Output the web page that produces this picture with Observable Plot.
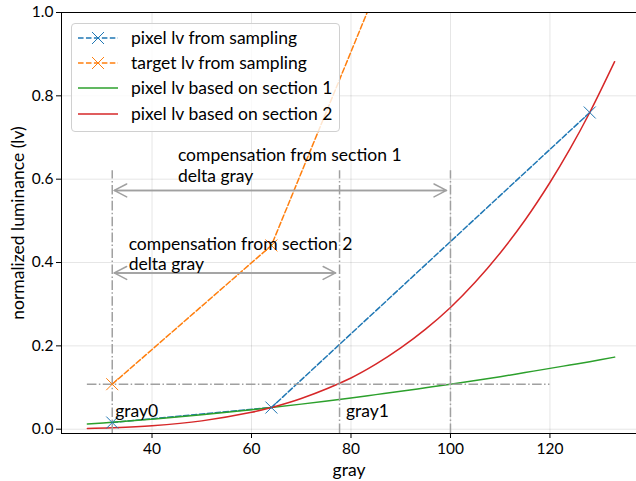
<!DOCTYPE html>
<html><head><meta charset="utf-8">
<script src="https://cdn.jsdelivr.net/npm/d3@7"></script>
<script src="https://cdn.jsdelivr.net/npm/@observablehq/plot@0.6"></script>
<style>
body{margin:0;background:#fff;}
#wrap{position:relative;width:636px;height:481px;font-family:Lato,sans-serif;}
#legend{position:absolute;left:71px;top:23px;width:267px;height:107px;border:1px solid #d0d0d0;border-radius:4px;background:rgba(255,255,255,0.8);font-size:17.5px;color:#000;}
#legend .row{position:absolute;left:0;height:20px;width:100%;}
#legend svg{position:absolute;left:5px;top:0;}
#legend span{position:absolute;left:59px;top:0;line-height:20px;white-space:nowrap;}
</style>
</head><body><div id="wrap"></div>
<script>
// sampled points
const sampleGray = [32, 64, 128];
const pixelLvSampled = [0.016, 0.052, 0.76];
const targetLvSampled = [0.108, 0.441, 2.30];
// fitted curves
const curveGray = [27, 32, 40, 50, 60, 64, 70, 80, 85, 90, 95, 100, 105, 110, 115, 120, 124, 128, 133];
const section1Lv = [0.0126, 0.0167, 0.0241, 0.0347, 0.0468, 0.052, 0.0602, 0.075, 0.083, 0.091, 0.0995, 0.108, 0.117, 0.126, 0.136, 0.146, 0.154, 0.162, 0.173];
const section2Lv = [0.0018, 0.0035, 0.0084, 0.020, 0.0405, 0.052, 0.0737, 0.123, 0.156, 0.195, 0.240, 0.292, 0.353, 0.423, 0.502, 0.592, 0.672, 0.76, 0.882];
// reference lines
const grayMarks = [32, 77.7, 100];
const targetLv0 = 0.108;
const hLineRange = [27, 120];
const vLineTop = 0.62;
// arrows
const arrowFrom = [32, 32];
const arrowTo = [100, 77.7];
const arrowLv = [0.573, 0.375];
// annotations
const noteText = ["compensation from section 1\ndelta gray", "compensation from section 2\ndelta gray", "gray0", "gray1"];
const noteGray = [45.2, 35.3, 32.6, 79.0];
const noteLv = [0.647, 0.434, 0.033, 0.033];
// ticks
const xTicks = [40, 60, 80, 100, 120];
const yTicks = [0, 0.2, 0.4, 0.6, 0.8, 1.0];
const seriesNames = ["pixel lv from sampling", "target lv from sampling", "pixel lv based on section 1", "pixel lv based on section 2"];
const seriesColors = ["#1f77b4", "#ff7f0e", "#2ca02c", "#d62728"];

const xDomain = [21.8, 137.4];
const yDomain = [-0.0103, 1.0];

const sampled = sampleGray.map((g, i) => ({g, pix: pixelLvSampled[i], tgt: targetLvSampled[i]}));
const curves = curveGray.map((g, i) => ({g, s1: section1Lv[i], s2: section2Lv[i]}));
const arrows = arrowFrom.map((a, i) => ({a, b: arrowTo[i], y: arrowLv[i]}));
const notes = noteText.map((t, i) => ({t, x: noteGray[i], y: noteLv[i]}));

const FS = 17.5;
const TS = 15.5;
const dashDot = "9.6,2.4,1.5,2.4";
const dash = "5.55,2.4";
const gray = "#a0a0a0";

const chart = Plot.plot({
  width: 636, height: 481,
  marginLeft: 61, marginRight: 0, marginTop: 12, marginBottom: 48,
  style: {fontFamily: "Lato, sans-serif", fontSize: TS + "px", background: "#fff", overflow: "visible"},
  x: {domain: xDomain},
  y: {domain: yDomain},
  marks: [
    Plot.gridX(xTicks, {stroke: "#000", strokeOpacity: 0.1, strokeWidth: 1}),
    Plot.gridY(yTicks, {stroke: "#000", strokeOpacity: 0.1, strokeWidth: 1}),
    Plot.axisX(xTicks, {tickSize: 5, tickPadding: 4, fontSize: TS, label: null}),
    Plot.axisX({tickSize: 0, ticks: [], label: "gray", labelAnchor: "center", labelArrow: "none", labelOffset: 42, fontSize: FS}),
    Plot.axisY(yTicks, {tickSize: 5, tickPadding: 3, fontSize: TS, tickFormat: d3.format(".1f"), label: null}),
    Plot.axisY({tickSize: 0, ticks: [], label: "normalized luminance (lv)", labelAnchor: "center", labelArrow: "none", labelOffset: 50, fontSize: FS}),
    Plot.line(sampled, {x: "g", y: "pix", stroke: seriesColors[0], strokeWidth: 1.5, strokeDasharray: dash, clip: true}),
    Plot.line(sampled, {x: "g", y: "tgt", stroke: seriesColors[1], strokeWidth: 1.5, strokeDasharray: dash, clip: true}),
    Plot.line(curves, {x: "g", y: "s1", stroke: seriesColors[2], strokeWidth: 1.5, curve: "catmull-rom", clip: true}),
    Plot.line(curves, {x: "g", y: "s2", stroke: seriesColors[3], strokeWidth: 1.5, curve: "catmull-rom", clip: true}),
    Plot.ruleX(grayMarks, {y1: yDomain[0], y2: vLineTop, stroke: gray, strokeWidth: 1.5, strokeDasharray: dashDot}),
    Plot.ruleY([targetLv0], {x1: hLineRange[0], x2: hLineRange[1], stroke: gray, strokeWidth: 1.5, strokeDasharray: dashDot}),
    Plot.dot(sampled, {x: "g", y: "pix", symbol: "times", r: 5.5, stroke: seriesColors[0], strokeWidth: 1, clip: true}),
    Plot.dot(sampled, {x: "g", y: "tgt", symbol: "times", r: 5.5, stroke: seriesColors[1], strokeWidth: 1, clip: true}),
    Plot.arrow(arrows, {x1: "a", x2: "b", y1: "y", y2: "y", stroke: gray, strokeWidth: 1.5, headLength: 14, headAngle: 55, insetStart: 2, insetEnd: 4, bend: 0}),
    Plot.arrow(arrows, {x1: "b", x2: "a", y1: "y", y2: "y", stroke: gray, strokeWidth: 1.5, headLength: 14, headAngle: 55, insetStart: 4, insetEnd: 2, bend: 0}),
    Plot.text(notes, {x: "x", y: "y", text: "t", textAnchor: "start", lineAnchor: "top", dy: -0.71 * FS, lineHeight: 1.15, fontSize: FS, fill: "#000"}),
    Plot.ruleX([xDomain[0]], {stroke: "#000", strokeWidth: 1}),
    Plot.ruleY([yDomain[0]], {stroke: "#000", strokeWidth: 1}),
    Plot.ruleY([yDomain[1]], {stroke: "#000", strokeWidth: 1})
  ]
});
const wrap = document.getElementById("wrap");
wrap.appendChild(chart);

// legend
const leg = document.createElement("div");
leg.id = "legend";
const rowTops = [4, 29, 54, 80];
seriesNames.forEach((name, i) => {
  const row = document.createElement("div");
  row.className = "row";
  row.style.top = rowTops[i] + "px";
  const s = d3.create("svg").attr("width", 42).attr("height", 20);
  const dashed = i < 2;
  s.append("line").attr("x1", 1).attr("x2", 41).attr("y1", 10).attr("y2", 10)
    .attr("stroke", seriesColors[i]).attr("stroke-width", 1.5).attr("stroke-dasharray", dashed ? dash : null);
  if (dashed) {
    s.append("path").attr("d", "M15,4L27,16M15,16L27,4").attr("stroke", seriesColors[i]).attr("stroke-width", 1);
  }
  row.appendChild(s.node());
  const sp = document.createElement("span");
  sp.textContent = name;
  row.appendChild(sp);
  leg.appendChild(row);
});
wrap.appendChild(leg);
</script>
</body></html>
